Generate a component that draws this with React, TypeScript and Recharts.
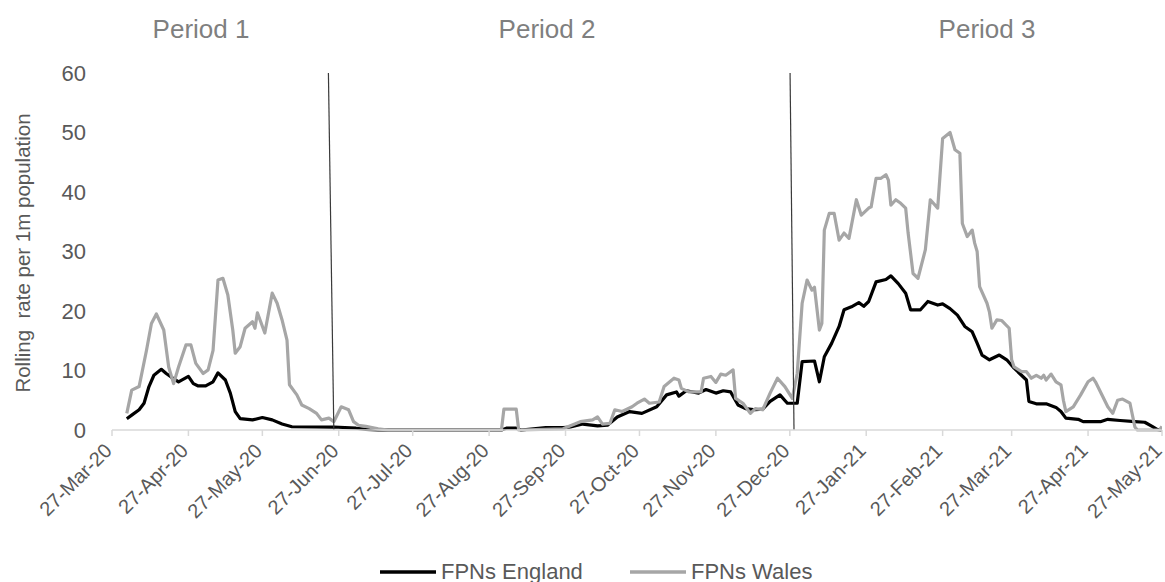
import React from 'react';
import { LineChart, Line, XAxis, YAxis, ReferenceLine, Legend } from 'recharts';

// Days counted from 27-Mar-20
const englandDays = [6, 8, 11, 13, 15, 17, 20, 22, 24, 27, 31, 33, 35, 38, 41, 43, 46, 48, 50, 52, 57, 61, 65, 69, 73, 83, 90, 99, 103, 108, 158, 160, 164, 166, 176, 183, 186, 191, 197, 201, 205, 210, 215, 221, 225, 229, 230, 233, 238, 241, 245, 248, 251, 254, 257, 261, 264, 267, 271, 274, 278, 280, 285, 287, 289, 292, 295, 297, 300, 303, 305, 307, 310, 314, 316, 319, 322, 324, 328, 331, 335, 337, 340, 343, 346, 349, 351, 353, 356, 360, 363, 366, 369, 371, 372, 375, 379, 383, 385, 387, 392, 394, 401, 404, 409, 415, 419, 422, 424, 426];
const englandValues = [1.9, 2.5, 3.4, 4.5, 7.3, 9.2, 10.2, 9.5, 8.9, 8.1, 9.0, 7.8, 7.4, 7.4, 8.1, 9.6, 8.4, 6.2, 3.1, 1.9, 1.7, 2.1, 1.7, 1.0, 0.55, 0.5, 0.5, 0.3, 0.1, 0, 0, 0.3, 0.3, 0, 0.4, 0.4, 0.5, 1.0, 0.7, 0.8, 2.2, 3.1, 2.8, 3.9, 5.9, 6.4, 5.7, 6.6, 6.2, 6.8, 6.2, 6.6, 6.4, 4.2, 3.6, 3.4, 3.5, 4.8, 5.9, 4.5, 4.5, 11.5, 11.6, 8.1, 12.3, 14.6, 17.4, 20.2, 20.7, 21.4, 20.8, 21.6, 24.9, 25.3, 25.9, 24.6, 23.0, 20.2, 20.2, 21.6, 21.0, 21.2, 20.4, 19.3, 17.4, 16.5, 14.6, 12.6, 11.8, 12.6, 11.8, 10.4, 9.2, 8.4, 4.8, 4.4, 4.4, 3.8, 3.1, 2.0, 1.8, 1.4, 1.4, 1.8, 1.6, 1.4, 1.3, 0.6, 0.1, 0];

const walesDays = [6, 8, 11, 14, 16, 18, 21, 23, 25, 27, 30, 32, 34, 37, 39, 41, 43, 45, 47, 49, 50, 52, 54, 57, 58, 59, 62, 65, 67, 69, 71, 72, 75, 77, 80, 83, 85, 88, 90, 93, 96, 98, 100, 103, 108, 112, 158, 159, 164, 165, 183, 190, 195, 197, 199, 202, 204, 207, 211, 213, 216, 218, 222, 224, 228, 230, 231, 234, 239, 240, 243, 245, 247, 249, 252, 253, 256, 259, 261, 264, 267, 270, 273, 276, 278, 280, 282, 284, 285, 287, 288, 289, 291, 293, 295, 297, 299, 302, 304, 307, 308, 310, 312, 314, 315, 316, 318, 320, 322, 323, 325, 327, 330, 332, 335, 337, 340, 342, 344, 345, 347, 349, 350, 351, 352, 355, 356, 357, 359, 361, 364, 365, 366, 369, 371, 373, 375, 377, 378, 379, 381, 383, 385, 386, 387, 390, 393, 396, 398, 399, 402, 404, 406, 408, 410, 413, 415, 416, 425, 426];
const walesValues = [2.8, 6.7, 7.3, 13.4, 17.9, 19.5, 16.8, 10.6, 7.8, 10.6, 14.3, 14.3, 11.2, 9.5, 10.1, 13.4, 25.2, 25.5, 22.7, 16.8, 12.9, 14.0, 17.1, 18.2, 17.1, 19.7, 16.3, 23.0, 21.3, 18.5, 15.1, 7.6, 5.9, 4.2, 3.6, 2.8, 1.7, 2.0, 1.4, 3.9, 3.4, 1.4, 0.8, 0.6, 0.2, 0, 0, 3.5, 3.5, 0, 0.2, 1.4, 1.7, 2.2, 1.0, 1.1, 3.4, 3.1, 3.9, 4.5, 5.2, 4.5, 4.7, 7.3, 8.7, 8.4, 7.0, 6.4, 6.4, 8.7, 9.0, 8.0, 9.4, 9.2, 10.1, 5.3, 4.5, 2.8, 3.6, 3.4, 6.2, 8.7, 7.3, 5.3, 9.5, 21.3, 25.2, 23.5, 24.0, 16.8, 17.9, 33.6, 36.4, 36.4, 31.9, 33.1, 32.2, 38.7, 36.1, 37.3, 37.5, 42.3, 42.3, 42.9, 42.0, 37.8, 38.7, 38.1, 37.3, 33.1, 26.3, 25.5, 30.3, 38.7, 37.3, 49.0, 50.0, 47.1, 46.5, 34.7, 32.5, 33.6, 31.4, 30.0, 24.1, 21.3, 19.8, 17.1, 18.5, 18.4, 17.1, 11.8, 10.6, 9.8, 9.8, 8.7, 9.2, 8.7, 9.2, 8.4, 9.4, 8.1, 7.6, 5.0, 3.1, 3.9, 5.9, 8.1, 8.7, 8.1, 5.6, 3.9, 2.8, 5.0, 5.2, 4.5, 0.5, 0, 0, 0.6];

const tickDays = [0, 31, 61, 92, 122, 153, 184, 214, 245, 275, 306, 337, 365, 396, 426];
const tickLabels = ['27-Mar-20', '27-Apr-20', '27-May-20', '27-Jun-20', '27-Jul-20', '27-Aug-20', '27-Sep-20', '27-Oct-20', '27-Nov-20', '27-Dec-20', '27-Jan-21', '27-Feb-21', '27-Mar-21', '27-Apr-21', '27-May-21'];
const yTicks = [0, 10, 20, 30, 40, 50, 60];

const periodNames = ['Period 1', 'Period 2', 'Period 3'];
// Period boundaries (days): top x, bottom x of each drawn divider
const boundaryTop = [87.8, 275.1];
const boundaryBottom = [90.0, 276.7];

const seriesNames = ['FPNs England', 'FPNs Wales'];
const seriesColors = ['#000000', '#a6a6a6'];

const englandData = englandDays.map((d, i) => ({ day: d, value: englandValues[i] }));
const walesData = walesDays.map((d, i) => ({ day: d, value: walesValues[i] }));

const FONT = '"Liberation Sans", Arial, sans-serif';

const XTick = (props: any) => {
  const { x, y, payload } = props;
  const i = tickDays.indexOf(payload.value);
  const ax = x + 1;
  return (
    <text x={ax} y={y} transform={`rotate(-45 ${ax} ${y})`} textAnchor="end" fill="#595959" fontSize={20} fontFamily={FONT}>
      {tickLabels[i]}
    </text>
  );
};

const LegendContent = () => (
  <div style={{ height: 40, position: 'relative', width: 1165, fontFamily: FONT }}>
    {seriesNames.map((name, i) => (
      <div key={name} style={{ position: 'absolute', left: i === 0 ? 380 : 630, top: 18, display: 'flex', alignItems: 'center', height: 24 }}>
        <svg width={56} height={8} style={{ marginRight: 5 }}>
          <line x1={0} y1={4} x2={56} y2={4} stroke={seriesColors[i]} strokeWidth={3.5} />
        </svg>
        <span style={{ fontSize: 22, color: '#595959', lineHeight: '24px' }}>{name}</span>
      </div>
    ))}
  </div>
);

const periodLeft = [201, 547, 987];

export default function App() {
  return (
    <div style={{ position: 'absolute', left: 0, top: 0, width: 1165, height: 582, background: '#fff' }}>
      {periodNames.map((p, i) => (
        <div key={p} style={{ position: 'absolute', left: periodLeft[i] - 100, width: 200, top: 14, textAlign: 'center', fontFamily: FONT, fontSize: 26, color: '#7f7f7f', lineHeight: '30px' }}>
          {p}
        </div>
      ))}
      <LineChart width={1165} height={582} margin={{ top: 73, right: 3, bottom: 0, left: 0 }}>
        <XAxis
          dataKey="day"
          type="number"
          domain={[0, 426]}
          ticks={tickDays}
          interval={0}
          tick={<XTick />}
          tickSize={6}
          tickMargin={16}
          tickLine={{ stroke: '#d9d9d9', strokeWidth: 1.5 }}
          axisLine={{ stroke: '#d9d9d9', strokeWidth: 1.5 }}
          height={112}
          allowDataOverflow
        />
        <YAxis
          type="number"
          domain={[0, 60]}
          ticks={yTicks}
          interval={0}
          width={112}
          axisLine={false}
          tickLine={false}
          tickSize={0}
          tickMargin={26}
          tick={{ fill: '#595959', fontSize: 22, fontFamily: FONT }}
          label={{
            content: () => (
              <text x={22} y={253} transform="rotate(-90 22 253)" textAnchor="middle" dominantBaseline="central" fill="#595959" fontSize={20.5} fontFamily={FONT} style={{ whiteSpace: 'pre' }}>
                {'Rolling  rate per 1m population'}
              </text>
            ),
          }}
        />
        <Line data={englandData} dataKey="value" name={seriesNames[0]} type="linear" stroke={seriesColors[0]} strokeWidth={3.2} dot={false} isAnimationActive={false} strokeLinejoin="round" />
        <Line data={walesData} dataKey="value" name={seriesNames[1]} type="linear" stroke={seriesColors[1]} strokeWidth={3.2} dot={false} isAnimationActive={false} strokeLinejoin="round" />
        {boundaryTop.map((t, i) => (
          <ReferenceLine key={i} segment={[{ x: t, y: 60 }, { x: boundaryBottom[i], y: 0 }]} stroke="#3a3a3a" strokeWidth={1.2} ifOverflow="visible" />
        ))}
        <Legend verticalAlign="bottom" height={40} content={<LegendContent />} wrapperStyle={{ left: 0, bottom: 0, width: 1165, height: 40 }} />
      </LineChart>
    </div>
  );
}
